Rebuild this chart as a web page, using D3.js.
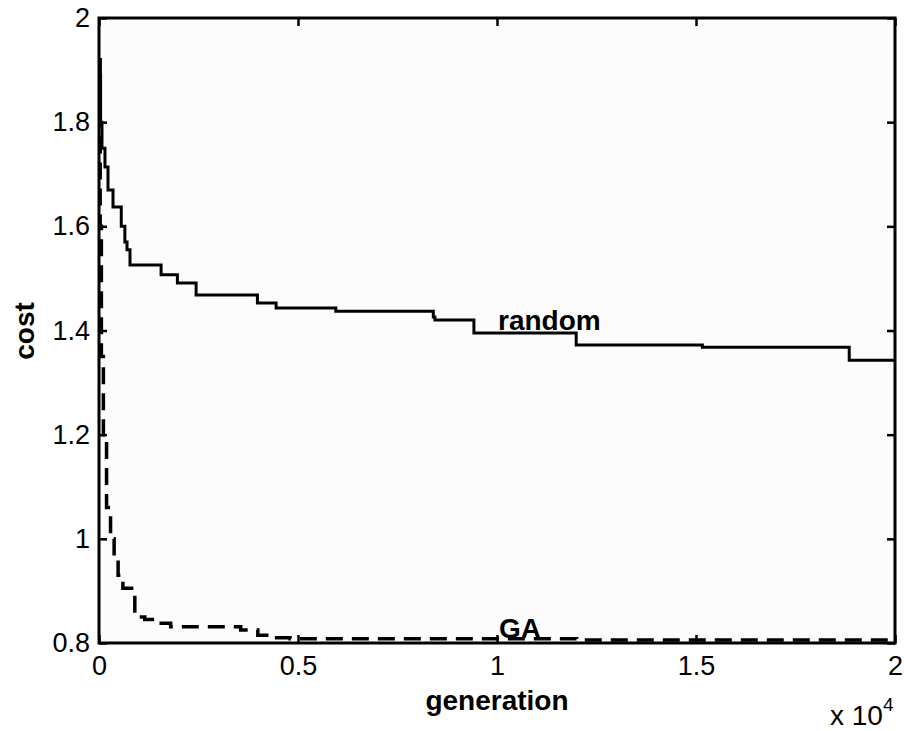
<!DOCTYPE html>
<html>
<head>
<meta charset="UTF-8">
<title>cost vs generation</title>
<style>
  body { margin: 0; background: #fff; }
  .tick text { font-family: "Liberation Sans", Arial, sans-serif; font-size: 27px; fill: #000; }
  .tick line { stroke: #000; stroke-width: 2.5; }
  .lbl { font-family: "Liberation Sans", Arial, sans-serif; font-weight: bold; font-size: 28px; fill: #000; }
</style>
</head>
<body>
<svg id="chart" width="904" height="731"></svg>
<script src="https://d3js.org/d3.v7.min.js"></script>
<script>
// random search: step levels (generation, cost)
var randGen  = [0, 40, 75, 150, 226, 352, 560, 650, 704, 779, 1560, 1970, 2440, 3980, 4450, 5950, 8400, 8440, 9420, 11990, 15160, 18850, 20000];
var randCost = [1.89, 1.80, 1.75, 1.714, 1.670, 1.637, 1.60, 1.57, 1.555, 1.526, 1.507, 1.491, 1.468, 1.453, 1.443, 1.437, 1.426, 1.420, 1.395, 1.372, 1.368, 1.343, 1.343];

// GA: step levels (generation, cost)
var gaGen  = [0, 30, 60, 110, 190, 290, 380, 480, 600, 900, 1150, 1450, 1800, 3560, 3990, 4300, 4800, 12000, 20000];
var gaCost = [1.92, 1.6, 1.35, 1.2, 1.06, 1.0, 0.96, 0.93, 0.905, 0.85, 0.845, 0.838, 0.831, 0.825, 0.815, 0.81, 0.808, 0.806, 0.806];

var xTicks = [0, 5000, 10000, 15000, 20000];
var xTickLabels = ["0", "0.5", "1", "1.5", "2"];
var yTicks = [0.8, 1.0, 1.2, 1.4, 1.6, 1.8, 2.0];
var yTickLabels = ["0.8", "1", "1.2", "1.4", "1.6", "1.8", "2"];

var margin = {top: 18, right: 9, bottom: 88, left: 99},
    width = 904 - margin.left - margin.right,
    height = 731 - margin.top - margin.bottom;

var svg = d3.select("#chart");
var chart = svg.append("g")
  .attr("transform", "translate(" + margin.left + "," + margin.top + ")");

var xScale = d3.scaleLinear().domain([0, 20000]).range([0, width]);
var yScale = d3.scaleLinear().domain([0.8, 2]).range([height, 0]);

// plot background
chart.append("rect")
  .attr("width", width).attr("height", height)
  .attr("fill", "#fcfcfc");

chart.append("clipPath").attr("id", "clip")
  .append("rect").attr("width", width).attr("height", height);

// curves
var randData = randGen.map(function(g, i) { return [g, randCost[i]]; });
var gaData = gaGen.map(function(g, i) { return [g, gaCost[i]]; });

var line = d3.line()
  .x(function(d) { return xScale(d[0]); })
  .y(function(d) { return yScale(d[1]); })
  .curve(d3.curveStepAfter);

chart.append("path")
  .datum(randData)
  .attr("clip-path", "url(#clip)")
  .attr("d", line)
  .attr("fill", "none")
  .attr("stroke", "#000")
  .attr("stroke-width", 3);

chart.append("path")
  .datum(gaData)
  .attr("clip-path", "url(#clip)")
  .attr("d", line)
  .attr("fill", "none")
  .attr("stroke", "#000")
  .attr("stroke-width", 3.5)
  .attr("stroke-dasharray", "17,9");

// axes, ticks pointing inward (matlab style)
var fmtX = function(d, i) { return xTickLabels[i]; };
var fmtY = function(d, i) { return yTickLabels[i]; };

chart.append("g")
  .attr("transform", "translate(0," + height + ")")
  .call(d3.axisBottom(xScale).tickValues(xTicks).tickFormat(fmtX).tickSize(-8).tickPadding(13));

chart.append("g")
  .call(d3.axisTop(xScale).tickValues(xTicks).tickFormat("").tickSize(-8));

chart.append("g")
  .call(d3.axisLeft(yScale).tickValues(yTicks).tickFormat(fmtY).tickSize(-8).tickPadding(9));

chart.append("g")
  .attr("transform", "translate(" + width + ",0)")
  .call(d3.axisRight(yScale).tickValues(yTicks).tickFormat("").tickSize(-8));

chart.selectAll(".domain").remove();

// box
chart.append("rect")
  .attr("width", width).attr("height", height)
  .attr("fill", "none")
  .attr("stroke", "#000")
  .attr("stroke-width", 3);

// labels
chart.append("text")
  .attr("class", "lbl")
  .attr("x", width / 2).attr("y", 692)
  .attr("text-anchor", "middle")
  .text("generation");

svg.append("text")
  .attr("class", "lbl")
  .attr("transform", "translate(34,331) rotate(-90)")
  .attr("text-anchor", "middle")
  .text("cost");

chart.append("text")
  .attr("class", "lbl")
  .attr("x", xScale(10000) + 1).attr("y", 312)
  .text("random");

chart.append("text")
  .attr("class", "lbl")
  .attr("x", xScale(10000) + 2).attr("y", 620)
  .text("GA");

var sci = svg.append("text")
  .attr("x", 830).attr("y", 725)
  .style("font-family", "'Liberation Sans', Arial, sans-serif")
  .style("font-size", "28px");
sci.append("tspan").text("x 10");
sci.append("tspan").attr("dy", -14).style("font-size", "19px").text("4");
</script>
</body>
</html>
